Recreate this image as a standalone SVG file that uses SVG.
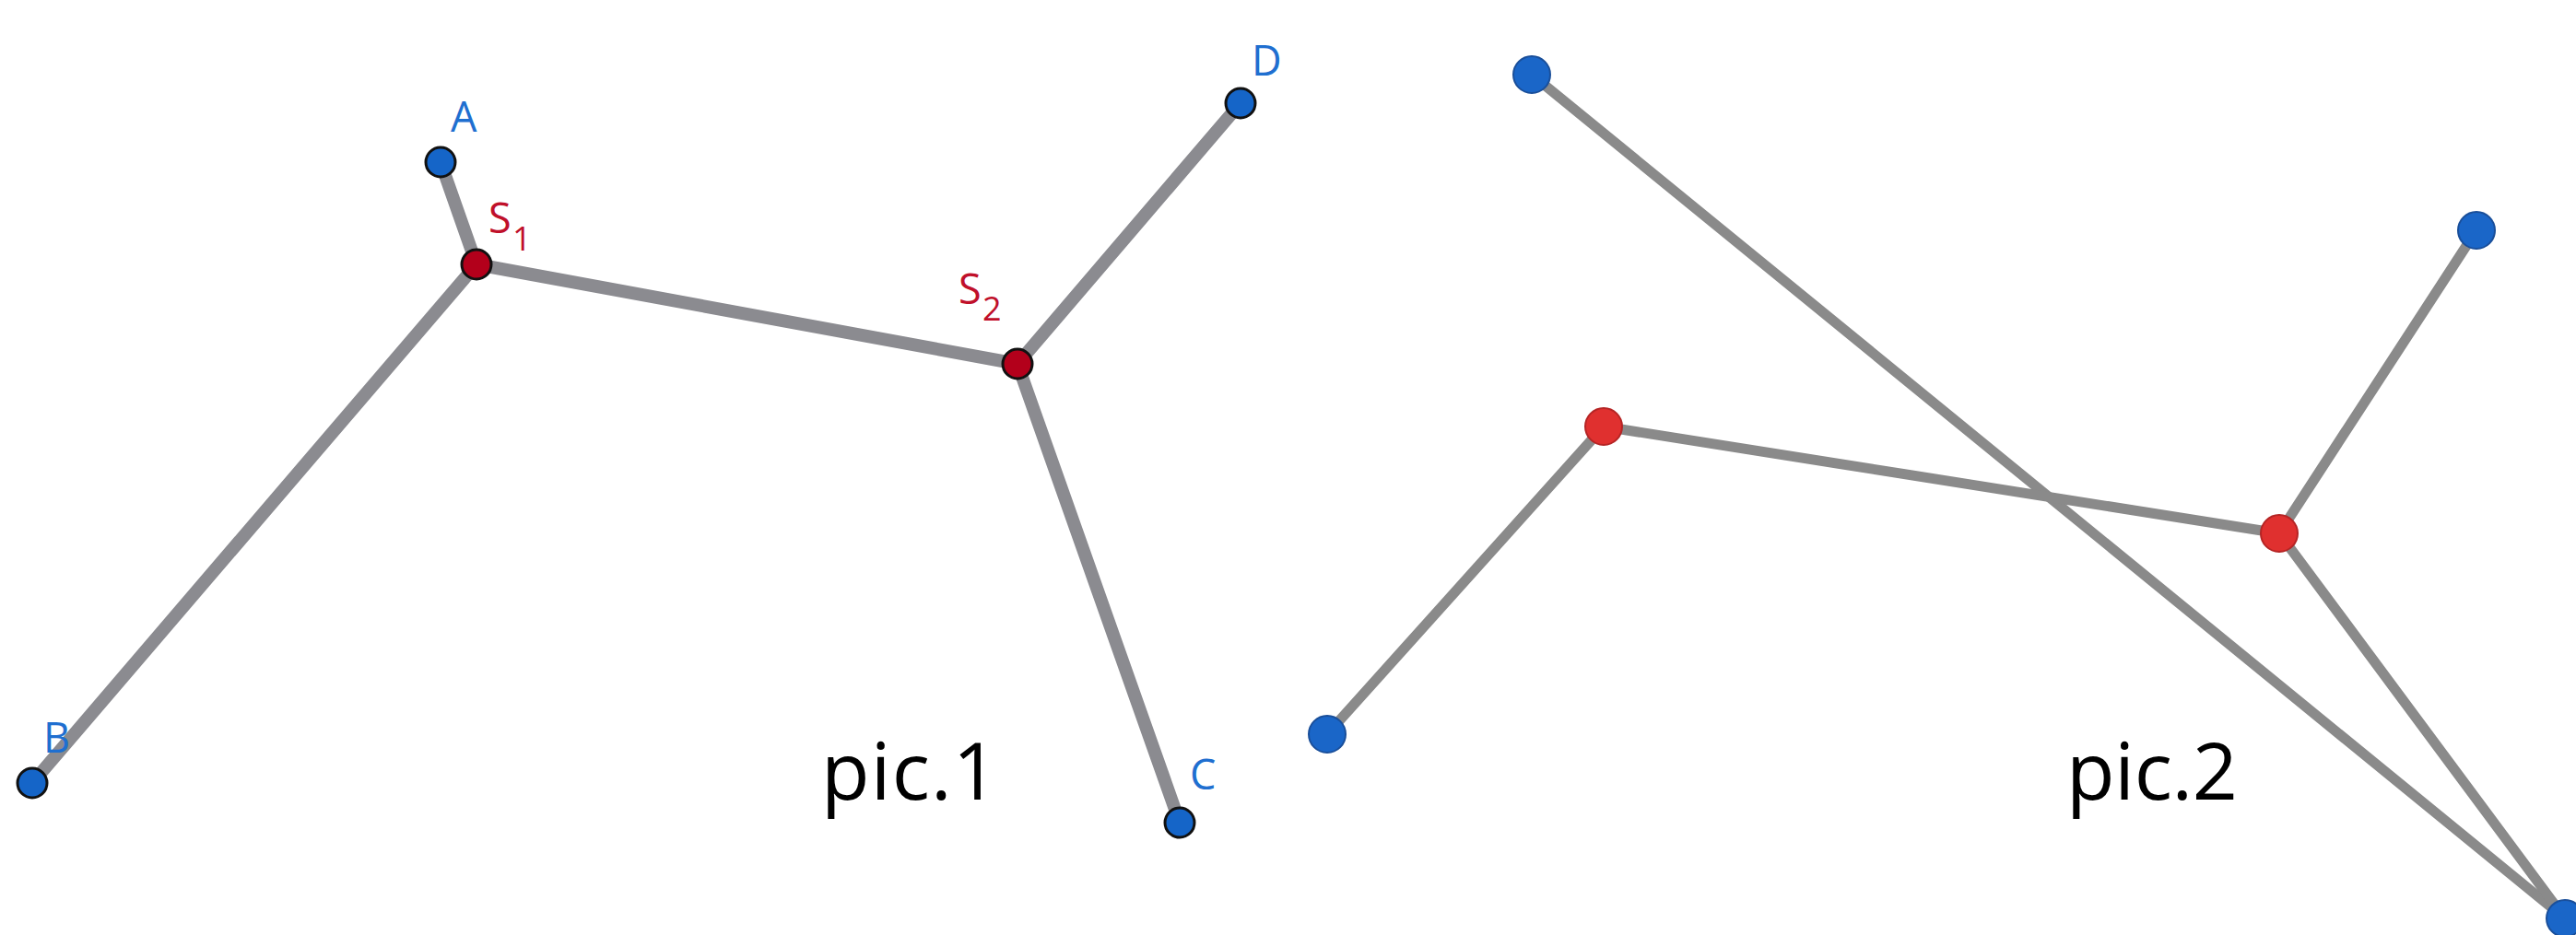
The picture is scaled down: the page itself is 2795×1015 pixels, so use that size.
<svg xmlns="http://www.w3.org/2000/svg" width="2795" height="1015" viewBox="0 0 2795 1015">
<style>
.e1{stroke:#8b8b90;stroke-width:14;stroke-linecap:round;fill:none}
.e2{stroke:#8a8a8a;stroke-width:11;stroke-linecap:round;fill:none}
.b1{fill:#1565c8;stroke:#111;stroke-width:3}
.r1{fill:#b3001b;stroke:#111;stroke-width:3}
.b2{fill:#1a66c8;stroke:#1a4f9a;stroke-width:2}
.r2{fill:#e0302f;stroke:#b52525;stroke-width:2}
.lb{font-family:"Open Sans","Noto Sans",sans-serif;font-size:45px;fill:#1f6fd0}
.lr{font-family:"Open Sans","Noto Sans",sans-serif;font-size:45px;fill:#c0102a}
.sub{font-size:36px}
.cap{font-family:"Open Sans","Noto Sans",sans-serif;font-size:86px;fill:#000}
</style>
<rect width="2795" height="1015" fill="#fff"/>
<g id="connectors">
<line class="e1" x1="478" y1="176" x2="517" y2="287"/>
<line class="e1" x1="517" y1="287" x2="35" y2="850"/>
<line class="e1" x1="517" y1="287" x2="1104" y2="395"/>
<line class="e1" x1="1104" y1="395" x2="1346" y2="112"/>
<line class="e1" x1="1104" y1="395" x2="1280" y2="893"/>
<line class="e2" x1="1662" y1="81" x2="2783" y2="997"/>
<line class="e2" x1="1740" y1="463" x2="1440" y2="797"/>
<line class="e2" x1="1740" y1="463" x2="2473" y2="579"/>
<line class="e2" x1="2473" y1="579" x2="2687" y2="250"/>
<line class="e2" x1="2473" y1="579" x2="2783" y2="997"/>
</g>
<g id="A"><circle class="b1" cx="478" cy="176" r="16"/><text class="lb" x="489" y="143">A</text></g>
<g id="B"><circle class="b1" cx="35" cy="850" r="16"/><text class="lb" x="47" y="817">B</text></g>
<g id="C"><circle class="b1" cx="1280" cy="893" r="16"/><text class="lb" x="1291" y="857">C</text></g>
<g id="D"><circle class="b1" cx="1346" cy="112" r="16"/><text class="lb" x="1358" y="82">D</text></g>
<g id="S1"><circle class="r1" cx="517" cy="287" r="16"/><text class="lr" x="530" y="253">S<tspan class="sub" x="556" y="272">1</tspan></text></g>
<g id="S2"><circle class="r1" cx="1104" cy="395" r="16"/><text class="lr" x="1040" y="330">S<tspan class="sub" x="1066" y="348">2</tspan></text></g>
<text class="cap" x="891" y="868" textLength="192" lengthAdjust="spacing">pic.1</text>
<g id="P2a"><circle class="b2" cx="1662" cy="81" r="20"/></g>
<g id="P2b"><circle class="b2" cx="1440" cy="797" r="20"/></g>
<g id="P2c"><circle class="r2" cx="1740" cy="463" r="20"/></g>
<g id="P2d"><circle class="r2" cx="2473" cy="579" r="20"/></g>
<g id="P2e"><circle class="b2" cx="2687" cy="250" r="20"/></g>
<g id="P2f"><circle class="b2" cx="2783" cy="997" r="20"/></g>
<text class="cap" x="2242" y="868" textLength="186" lengthAdjust="spacing">pic.2</text>
</svg>
